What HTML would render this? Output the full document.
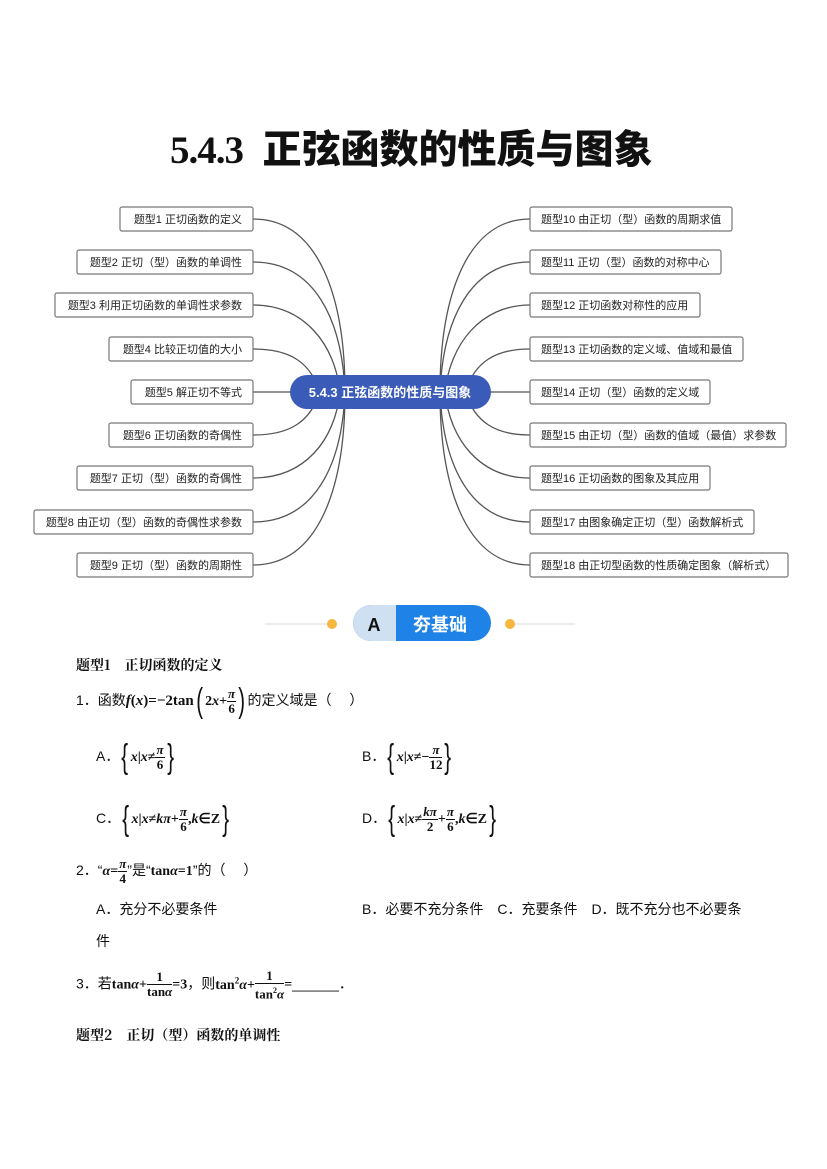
<!DOCTYPE html>
<html><head><meta charset="utf-8"><style>
body{margin:0;background:#fff;}
#p{position:relative;width:827px;height:1169px;overflow:hidden;font-family:"Liberation Serif","Noto Serif CJK SC",serif;color:#111;}
.a{position:absolute;white-space:nowrap;}
.t{font-size:14px;font-family:"Liberation Sans","Noto Sans CJK SC",sans-serif;}
.fr{display:inline-block;vertical-align:middle;text-align:center;font-weight:bold;font-size:13px;line-height:14px;font-family:"Liberation Serif",serif;}
.fr span{display:block;}
.fr .n{border-bottom:1px solid #111;padding:0 1px;}
.b{font-weight:bold;font-family:"Liberation Serif",serif;}
.br{display:inline-block;vertical-align:middle;font-size:34px;line-height:34px;font-weight:normal;transform:scaleX(0.6);}
</style></head><body><div id="p">
<div class="a" style="left:170px;top:123px;font-size:39px;font-weight:bold;line-height:48px;"><span style="font-family:'Liberation Serif',serif;letter-spacing:-1px">5.4.3</span>&nbsp;&nbsp;<span style="font-family:'Noto Sans CJK SC',sans-serif;font-size:39px;font-weight:900">正弦函数的性质与图象</span></div>

<svg class="a" style="left:0;top:0" width="827" height="600" viewBox="0 0 827 600">
<g fill="none" stroke="#555" stroke-width="1.3">
<path d="M253,219 C320,219 345,300 345,392"/>
<path d="M253,262 C315,262 342,320 345,392"/>
<path d="M253,305 C305,305 335,345 340,392"/>
<path d="M253,349 C290,349 310,362 320,392"/>
<path d="M253,392 L300,392"/>
<path d="M253,435 C290,435 310,422 320,392"/>
<path d="M253,478 C305,478 335,440 340,392"/>
<path d="M253,522 C315,522 342,465 345,392"/>
<path d="M253,565 C320,565 345,485 345,392"/>
<path d="M530,219 C465,219 440,300 440,392"/>
<path d="M530,262 C470,262 443,320 440,392"/>
<path d="M530,305 C480,305 450,345 445,392"/>
<path d="M530,349 C495,349 475,362 465,392"/>
<path d="M530,392 L480,392"/>
<path d="M530,435 C495,435 475,422 465,392"/>
<path d="M530,478 C480,478 450,440 445,392"/>
<path d="M530,522 C470,522 443,465 440,392"/>
<path d="M530,565 C465,565 440,485 440,392"/>
</g>
<g fill="#fff" stroke="#777" stroke-width="1.2">
<rect x="120" y="207" width="133" height="24" rx="2"/>
<rect x="77" y="250" width="176" height="24" rx="2"/>
<rect x="55" y="293" width="198" height="24" rx="2"/>
<rect x="109" y="337" width="144" height="24" rx="2"/>
<rect x="131" y="380" width="122" height="24" rx="2"/>
<rect x="109" y="423" width="144" height="24" rx="2"/>
<rect x="77" y="466" width="176" height="24" rx="2"/>
<rect x="34" y="510" width="219" height="24" rx="2"/>
<rect x="77" y="553" width="176" height="24" rx="2"/>
<rect x="530" y="207" width="202" height="24" rx="2"/>
<rect x="530" y="250" width="191" height="24" rx="2"/>
<rect x="530" y="293" width="170" height="24" rx="2"/>
<rect x="530" y="337" width="213" height="24" rx="2"/>
<rect x="530" y="380" width="180" height="24" rx="2"/>
<rect x="530" y="423" width="256" height="24" rx="2"/>
<rect x="530" y="466" width="180" height="24" rx="2"/>
<rect x="530" y="510" width="224" height="24" rx="2"/>
<rect x="530" y="553" width="258" height="24" rx="2"/>
</g>
<rect x="290" y="375" width="201" height="34" rx="17" fill="#3b5bb8"/>
<g font-family="Liberation Sans,Noto Sans CJK SC,sans-serif" font-size="11" fill="#222" text-anchor="end">
<text x="242" y="223">题型1  正切函数的定义</text>
<text x="242" y="266">题型2  正切（型）函数的单调性</text>
<text x="242" y="309">题型3  利用正切函数的单调性求参数</text>
<text x="242" y="353">题型4  比较正切值的大小</text>
<text x="242" y="396">题型5  解正切不等式</text>
<text x="242" y="439">题型6  正切函数的奇偶性</text>
<text x="242" y="482">题型7  正切（型）函数的奇偶性</text>
<text x="242" y="526">题型8  由正切（型）函数的奇偶性求参数</text>
<text x="242" y="569">题型9  正切（型）函数的周期性</text>
</g>
<g font-family="Liberation Sans,Noto Sans CJK SC,sans-serif" font-size="11" fill="#222">
<text x="541" y="223">题型10 由正切（型）函数的周期求值</text>
<text x="541" y="266">题型11 正切（型）函数的对称中心</text>
<text x="541" y="309">题型12 正切函数对称性的应用</text>
<text x="541" y="353">题型13 正切函数的定义域、值域和最值</text>
<text x="541" y="396">题型14 正切（型）函数的定义域</text>
<text x="541" y="439">题型15 由正切（型）函数的值域（最值）求参数</text>
<text x="541" y="482">题型16 正切函数的图象及其应用</text>
<text x="541" y="526">题型17 由图象确定正切（型）函数解析式</text>
<text x="541" y="569">题型18  由正切型函数的性质确定图象（解析式）</text>
</g>
<text x="390" y="397" text-anchor="middle" font-family="Liberation Sans,Noto Sans CJK SC,sans-serif" font-size="13" font-weight="bold" fill="#fff">5.4.3 正弦函数的性质与图象</text>
</svg>

<svg class="a" style="left:250px;top:600px" width="340" height="50">
<line x1="15" y1="24" x2="80" y2="24" stroke="#e5e5e5" stroke-width="1.5"/>
<line x1="265" y1="24" x2="325" y2="24" stroke="#e5e5e5" stroke-width="1.5"/>
<circle cx="82" cy="24" r="5" fill="#f7b63c"/>
<circle cx="260" cy="24" r="5" fill="#f7b63c"/>
<rect x="103" y="5" width="138" height="36" rx="18" fill="#1f82e6"/>
<path d="M121,5 H146 V41 H121 A18,18 0 0 1 121,5 Z" fill="#cfe0f2"/>
<text x="124" y="31" text-anchor="middle" font-family="Liberation Sans,sans-serif" font-weight="bold" font-size="18" fill="#111">A</text>
<text x="190" y="31" text-anchor="middle" font-family="Noto Sans CJK SC,sans-serif" font-weight="bold" font-size="18" fill="#fff">夯基础</text>
</svg>

<div class="a" style="left:76px;top:655px;font-size:14px;font-weight:bold;font-family:'Noto Serif CJK SC',serif;">题型1　正切函数的定义</div>
<div class="a t" style="left:76px;top:680px;height:40px;line-height:40px;">1．函数<span class="b" style="font-style:italic;font-size:15px">f</span><span class="b" style="font-size:15px">(<i>x</i>)=−2tan</span><span class="br">(</span><span class="b">2<i>x</i>+</span><span class="fr"><span class="n"><i>π</i></span><span>6</span></span><span class="br">)</span>的定义域是（　 ）</div>
<div class="a t" style="left:96px;top:736px;height:40px;line-height:40px;">A．<span class="br">{</span><span class="b"><i>x</i>|<i>x</i>≠</span><span class="fr"><span class="n"><i>π</i></span><span>6</span></span><span class="br">}</span></div>
<div class="a t" style="left:362px;top:736px;height:40px;line-height:40px;">B．<span class="br">{</span><span class="b"><i>x</i>|<i>x</i>≠−</span><span class="fr"><span class="n"><i>π</i></span><span>12</span></span><span class="br">}</span></div>
<div class="a t" style="left:96px;top:798px;height:40px;line-height:40px;">C．<span class="br">{</span><span class="b"><i>x</i>|<i>x</i>≠<i>kπ</i>+</span><span class="fr"><span class="n"><i>π</i></span><span>6</span></span><span class="b">,<i>k</i>∈Z</span><span class="br">}</span></div>
<div class="a t" style="left:362px;top:798px;height:40px;line-height:40px;">D．<span class="br">{</span><span class="b"><i>x</i>|<i>x</i>≠</span><span class="fr"><span class="n"><i>kπ</i></span><span>2</span></span><span class="b">+</span><span class="fr"><span class="n"><i>π</i></span><span>6</span></span><span class="b">,<i>k</i>∈Z</span><span class="br">}</span></div>
<div class="a t" style="left:76px;top:852px;height:36px;line-height:36px;">2．“<span class="b"><i>α</i>=</span><span class="fr"><span class="n"><i>π</i></span><span>4</span></span>”是“<span class="b">tan<i>α</i>=1</span>”的（　 ）</div>
<div class="a t" style="left:96px;top:899px;line-height:20px;">A．充分不必要条件</div>
<div class="a t" style="left:362px;top:899px;line-height:20px;">B．必要不充分条件　C．充要条件　D．既不充分也不必要条</div>
<div class="a t" style="left:96px;top:931px;line-height:20px;">件</div>
<div class="a t" style="left:76px;top:962px;height:36px;line-height:36px;">3．若<span class="b">tan<i>α</i>+</span><span class="fr"><span class="n">1</span><span>tan<i>α</i></span></span><span class="b">=3</span>，则<span class="b">tan<sup style="font-size:9px">2</sup><i>α</i>+</span><span class="fr"><span class="n">1</span><span>tan<sup style="font-size:8px">2</sup><i>α</i></span></span><span class="b">=</span>______．</div>
<div class="a" style="left:76px;top:1025px;font-size:14px;font-weight:bold;font-family:'Noto Serif CJK SC',serif;">题型2　正切（型）函数的单调性</div>
</div></body></html>
